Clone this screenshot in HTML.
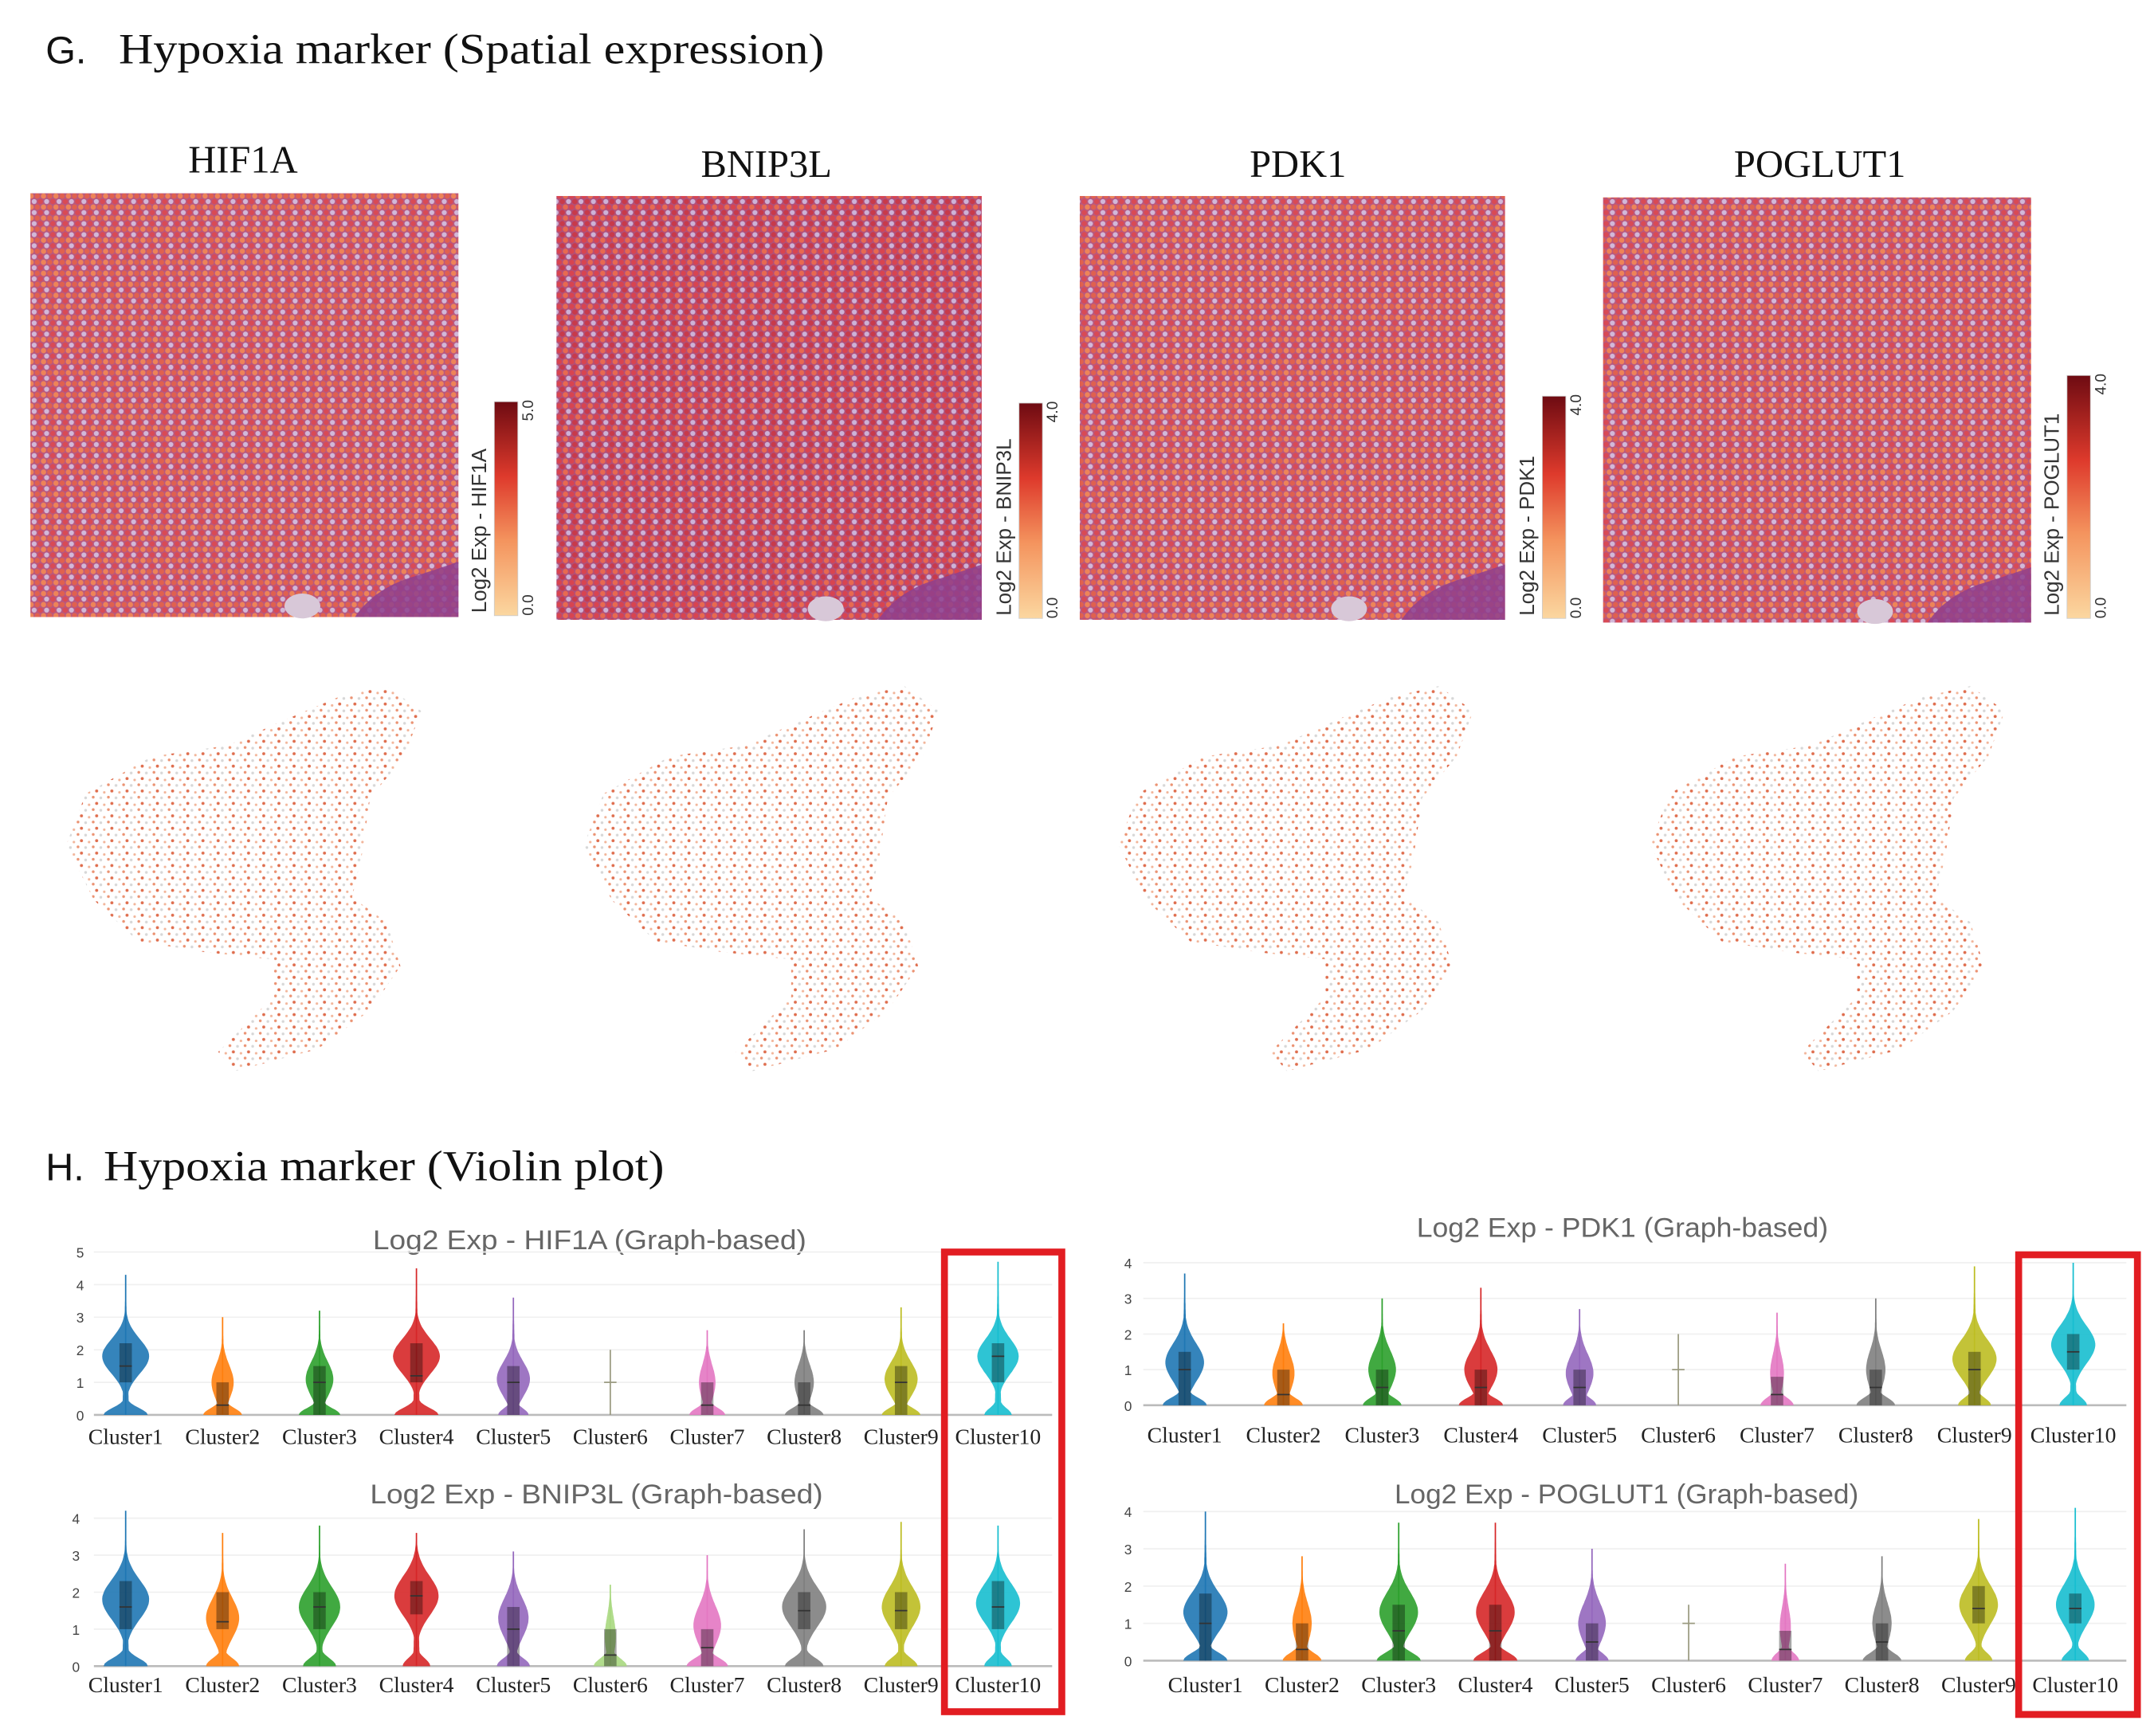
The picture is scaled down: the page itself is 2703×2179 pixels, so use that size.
<!DOCTYPE html>
<html><head><meta charset="utf-8">
<style>
html,body{margin:0;padding:0;background:#fff;}
svg{display:block;}
.serif{font-family:"Liberation Serif",serif;}
.sans{font-family:"Liberation Sans",sans-serif;}
</style></head>
<body>
<svg id="fig" width="2703" height="2179" viewBox="0 0 1560 1257.6" xmlns="http://www.w3.org/2000/svg">
<defs>
<pattern id="spots" width="9" height="8" patternUnits="userSpaceOnUse">
<rect width="9" height="8" fill="#b8587f"/>
<circle cx="2.25" cy="2" r="1.9" fill="#d94a55"/>
<circle cx="6.75" cy="2" r="1.8" fill="#d2b8d8"/>
<circle cx="0" cy="6" r="1.9" fill="#e0614f"/>
<circle cx="9" cy="6" r="1.9" fill="#e0614f"/>
<circle cx="4.5" cy="6" r="1.9" fill="#ee8458"/>
</pattern>
<pattern id="spots2" width="9" height="8" patternUnits="userSpaceOnUse">
<rect width="9" height="8" fill="#b0507a"/>
<circle cx="2.25" cy="2" r="1.9" fill="#c83a4a"/>
<circle cx="6.75" cy="2" r="1.8" fill="#cdb2d6"/>
<circle cx="0" cy="6" r="1.9" fill="#d84450"/>
<circle cx="9" cy="6" r="1.9" fill="#d84450"/>
<circle cx="4.5" cy="6" r="1.9" fill="#e86a50"/>
</pattern>
<pattern id="umapdots" width="11" height="9" patternUnits="userSpaceOnUse">
<rect width="11" height="9" fill="#fff"/>
<circle cx="1.5" cy="1.5" r="1" fill="#e8805a"/>
<circle cx="7" cy="2" r="1" fill="#d0d0d0"/>
<circle cx="4" cy="6" r="1.1" fill="#d9542f"/>
<circle cx="9.5" cy="7" r="0.9" fill="#f0a888"/>
</pattern>
<linearGradient id="cbar" x1="0" y1="1" x2="0" y2="0">
<stop offset="0" stop-color="#fbd7a0"/>
<stop offset="0.35" stop-color="#f4945e"/>
<stop offset="0.65" stop-color="#de3a2c"/>
<stop offset="1" stop-color="#6e0b12"/>
</linearGradient>
</defs>

<text x="33" y="46" class="sans" font-size="28" fill="#111">G.</text>
<text x="86" y="46" class="serif" font-size="31" fill="#111" textLength="511" lengthAdjust="spacingAndGlyphs">Hypoxia marker (Spatial expression)</text>
<text x="33" y="855" class="sans" font-size="28" fill="#111">H.</text>
<text x="75" y="855" class="serif" font-size="31" fill="#111" textLength="406" lengthAdjust="spacingAndGlyphs">Hypoxia marker (Violin plot)</text>

<g id="spatial"></g>
<g id="umaps"></g>
<g id="violins"></g>

<rect x="684" y="907" width="85" height="333" fill="none" stroke="#e21d22" stroke-width="5"/>
<rect x="1462" y="909" width="86" height="333" fill="none" stroke="#e21d22" stroke-width="5"/>
</svg>
<script>
const NS='http://www.w3.org/2000/svg';
function mk(tag,attrs,parent){const e=document.createElementNS(NS,tag);for(const k in attrs)e.setAttribute(k,attrs[k]);parent.appendChild(e);return e;}

// ---------- spatial panels ----------
const genes=['HIF1A','BNIP3L','PDK1','POGLUT1'];
const cbarMax=['5.0','4.0','4.0','4.0'];
const spatialG=document.getElementById('spatial');
const sp=[
 {x:22,y:140,w:310,h:307,tx:176,ty:125,cb:[358,291,446],pat:'spots'},
 {x:403,y:142,w:308,h:307,tx:555,ty:128,cb:[738,292,448],pat:'spots2'},
 {x:782,y:142,w:308,h:307,tx:940,ty:128,cb:[1117,287,448],pat:'spots'},
 {x:1161,y:143,w:310,h:308,tx:1318,ty:128,cb:[1497,272,448],pat:'spots'}
];
sp.forEach((p,i)=>{
 const t=mk('text',{x:p.tx,y:p.ty,'text-anchor':'middle','font-size':28,class:'serif',fill:'#111'},spatialG);
 t.textContent=genes[i];
 
 
 const r=mk('rect',{x:p.x,y:p.y,width:p.w,height:p.h,fill:'url(#'+p.pat+')'},spatialG);
 
 
 const bl=mk('path',{d:`M${p.x+p.w-75} ${p.y+p.h} Q${p.x+p.w-60} ${p.y+p.h-22} ${p.x+p.w-30} ${p.y+p.h-30} L${p.x+p.w} ${p.y+p.h-40} L${p.x+p.w} ${p.y+p.h} Z`,fill:'#8e3f8e','fill-opacity':0.85},spatialG);
 
 
 const hole=mk('ellipse',{cx:p.x+p.w-113,cy:p.y+p.h-8,rx:13,ry:9,fill:'#d8c8d8'},spatialG);
 
 
 const [cx,cy0,cy1]=p.cb;
 const cb=mk('rect',{x:cx,y:cy0,width:17,height:cy1-cy0,fill:'url(#cbar)',stroke:'#ccc','stroke-width':0.5},spatialG);
 
 
 const lab=mk('text',{x:0,y:0,transform:`translate(${cx-6},${cy1-2}) rotate(-90)`,class:'sans','font-size':15,fill:'#333'},spatialG);
 lab.textContent='Log2 Exp - '+genes[i];
 
 
 const tmax=mk('text',{x:0,y:0,transform:`translate(${cx+28},${cy0+14}) rotate(-90)`,class:'sans','font-size':11,fill:'#333'},spatialG);
 tmax.textContent=cbarMax[i];
 
 
 const tmin=mk('text',{x:0,y:0,transform:`translate(${cx+28},${cy1}) rotate(-90)`,class:'sans','font-size':11,fill:'#333'},spatialG);
 tmin.textContent='0.0';
 
 
});

// ---------- UMAP blobs ----------
const umapG=document.getElementById('umaps');
const blob=[[48,612],[62,575],[110,548],[165,540],[205,522],[245,505],[280,497],[305,515],[293,548],[268,578],[262,620],[255,650],[280,668],[290,700],[268,732],[230,760],[170,776],[158,762],[198,722],[198,695],[150,690],[100,682],[68,652]];
[0,375,762,1147].forEach((dx,i)=>{
 const pg=mk('polygon',{points:blob.map(p=>(p[0]+dx)+','+p[1]).join(' '),fill:'url(#umapdots)',opacity:0.85},umapG);
 
 
});

// ---------- violin data ----------
const clusters=['Cluster1','Cluster2','Cluster3','Cluster4','Cluster5','Cluster6','Cluster7','Cluster8','Cluster9','Cluster10'];
const colors=['#1f77b4','#ff7f0e','#2ca02c','#d62728','#9467bd','#a8d880','#e377c2','#7f7f7f','#bcbd22','#17becf'];

const hifMax=[4.3,3.0,3.2,4.5,3.6,2.0,2.6,2.6,3.3,4.7];
const hifQ1=[1,0,0,1,0,0,0,0,0,1];
const hifQ3=[2.2,1,1.5,2.2,1.5,0,1,1,1.5,2.2];
const hifMed=[1.5,0.3,1,1.2,1,1,0.3,0.3,1,1.8];
const hifLow=[0.8,0.7,0.75,0.8,0.55,0,0.65,0.7,0.7,0.5];
const hifMidC=[1.8,1,1.1,1.8,1.1,1,1,1,1.1,1.8];
const hifMidW=[0.85,0.4,0.5,0.85,0.6,0,0.3,0.35,0.6,0.75];

const bnMax=[4.2,3.6,3.8,3.6,3.1,2.2,3.0,3.7,3.9,3.8];
const bnQ1=[1,1,1,1.4,0,0,0,1,1,1];
const bnQ3=[2.3,2,2,2.3,1.6,1,1,2,2,2.3];
const bnMed=[1.6,1.2,1.6,1.9,1,0.3,0.5,1.5,1.5,1.6];
const bnLow=[0.8,0.6,0.6,0.5,0.6,0.6,0.75,0.7,0.6,0.5];
const bnMidC=[1.8,1.3,1.6,1.9,1.3,0.8,1.1,1.6,1.6,1.7];
const bnMidW=[0.85,0.6,0.75,0.8,0.55,0.2,0.5,0.8,0.7,0.8];

const pdkMax=[3.7,2.3,3.0,3.3,2.7,2.0,2.6,3.0,3.9,4.0];
const pdkQ1=[0,0,0,0,0,0,0,0,0,1];
const pdkQ3=[1.5,1,1,1,1,0,0.8,1,1.5,2];
const pdkMed=[1,0.3,0.5,0.5,0.5,1,0.3,0.5,1,1.5];
const pdkLow=[0.8,0.7,0.7,0.8,0.6,0,0.6,0.7,0.6,0.5];
const pdkMidC=[1.2,0.9,1,1,0.9,1,0.9,1,1.3,1.7];
const pdkMidW=[0.7,0.4,0.5,0.6,0.5,0,0.25,0.35,0.8,0.8];

const pogMax=[4.0,2.8,3.7,3.7,3.0,1.5,2.6,2.8,3.8,4.1];
const pogQ1=[0,0,0,0,0,0,0,0,1,1];
const pogQ3=[1.8,1,1.5,1.5,1,0,0.8,1,2,1.8];
const pogMed=[1,0.3,0.8,0.8,0.5,1,0.3,0.5,1.4,1.4];
const pogLow=[0.8,0.7,0.8,0.8,0.6,0,0.5,0.7,0.5,0.5];
const pogMidC=[1.3,1,1.3,1.3,1,1,0.9,1,1.5,1.5];
const pogMidW=[0.8,0.35,0.7,0.7,0.5,0,0.2,0.35,0.7,0.7];

const hifTicks=[0,1,2,3,4,5];
const otherTicks=[0,1,2,3,4];

const panels=[
 {name:'hif1a',title:'Log2 Exp - HIF1A (Graph-based)',tx:427,ty:905,tl:314,x0:68,x1:762,c0:91,step:70.2,y0:1025,unit:23.6,ticks:hifTicks,lx:58,ly:1046,
  max:hifMax,q1:hifQ1,q3:hifQ3,med:hifMed,low:hifLow,mc:hifMidC,mw:hifMidW},
 {name:'bnip3l',title:'Log2 Exp - BNIP3L (Graph-based)',tx:432,ty:1089,tl:328,x0:68,x1:762,c0:91,step:70.2,y0:1207,unit:26.8,ticks:otherTicks,lx:55,ly:1226,
  max:bnMax,q1:bnQ1,q3:bnQ3,med:bnMed,low:bnLow,mc:bnMidC,mw:bnMidW},
 {name:'pdk1',title:'Log2 Exp - PDK1 (Graph-based)',tx:1175,ty:896,tl:298,x0:828,x1:1540,c0:858,step:71.5,y0:1018,unit:25.8,ticks:otherTicks,lx:817,ly:1045,
  max:pdkMax,q1:pdkQ1,q3:pdkQ3,med:pdkMed,low:pdkLow,mc:pdkMidC,mw:pdkMidW},
 {name:'poglut1',title:'Log2 Exp - POGLUT1 (Graph-based)',tx:1178,ty:1089,tl:336,x0:828,x1:1540,c0:873,step:70,y0:1203,unit:27,ticks:otherTicks,lx:817,ly:1226,
  max:pogMax,q1:pogQ1,q3:pogQ3,med:pogMed,low:pogLow,mc:pogMidC,mw:pogMidW}
];

const vG=document.getElementById('violins');
panels.forEach(P=>{
 const g=mk('g',{},vG);
 
 
 const yS=v=>P.y0-v*P.unit;
 const xS=i=>P.c0+i*P.step;
 const t=mk('text',{x:P.tx,y:P.ty,'text-anchor':'middle',class:'sans','font-size':20,fill:'#666',textLength:P.tl,lengthAdjust:'spacingAndGlyphs'},g);
 t.textContent=P.title;
 
 
 P.ticks.forEach(v=>{
  if(v>0){const gl=mk('line',{x1:P.x0,x2:P.x1,y1:yS(v),y2:yS(v),stroke:'#f0f0f0','stroke-width':1},g);
   
   }
  const tl=mk('text',{x:P.lx,y:yS(v)+4,'text-anchor':'middle',class:'sans','font-size':10,fill:'#444'},g);
  tl.textContent=v;
  
  
 });
 const ax=mk('line',{x1:P.x0,x2:P.x1,y1:P.y0,y2:P.y0,stroke:'#bbb','stroke-width':1.5},g);
 
 
 clusters.forEach((c,i)=>{
  const cx=xS(i), col=colors[i], mx=P.max[i];
  const hw=v=>{
   let w=Math.max(P.low[i]*Math.exp(-Math.pow(v/0.3,2)),P.mw[i]*Math.exp(-Math.pow((v-P.mc[i])/0.75,2)));
   const tail=mx>0?Math.max(0,1-v/mx):0;
   w=Math.max(w,(P.mw[i]>0?0.12:0)*tail);
   if(v>mx)w=0;
   return w*20;
  };
  let right=[],left=[];
  const n=60;
  for(let k=0;k<=n;k++){const v=mx*k/n;right.push([cx+hw(v),yS(v)]);left.push([cx-hw(v),yS(v)]);}
  const pts=right.concat(left.reverse()).map(p=>p[0].toFixed(1)+','+p[1].toFixed(1)).join(' ');
  const wl=mk('line',{x1:cx,x2:cx,y1:yS(0),y2:yS(mx),stroke:P.mw[i]>0?col:'#9a9a80','stroke-width':1},g);
  
  
  if(P.mw[i]>0||P.low[i]>0){
   const vp=mk('polygon',{points:pts,fill:col,'fill-opacity':0.9},g);
   
   
  }
  if(P.q3[i]>P.q1[i]){
   const bx=mk('rect',{x:cx-4.5,y:yS(P.q3[i]),width:9,height:(P.q3[i]-P.q1[i])*P.unit,fill:'#000','fill-opacity':0.35},g);
   
   
  }
  const md=mk('line',{x1:cx-4.5,x2:cx+4.5,y1:yS(P.med[i]),y2:yS(P.med[i]),stroke:P.mw[i]>0?'#333':'#9a9a80','stroke-width':1},g);
  
  
  const cl=mk('text',{x:cx,y:P.ly,'text-anchor':'middle',class:'serif','font-size':16,fill:'#222'},g);
  cl.textContent=c;
  
  
 });
});
</script>
</body></html>
